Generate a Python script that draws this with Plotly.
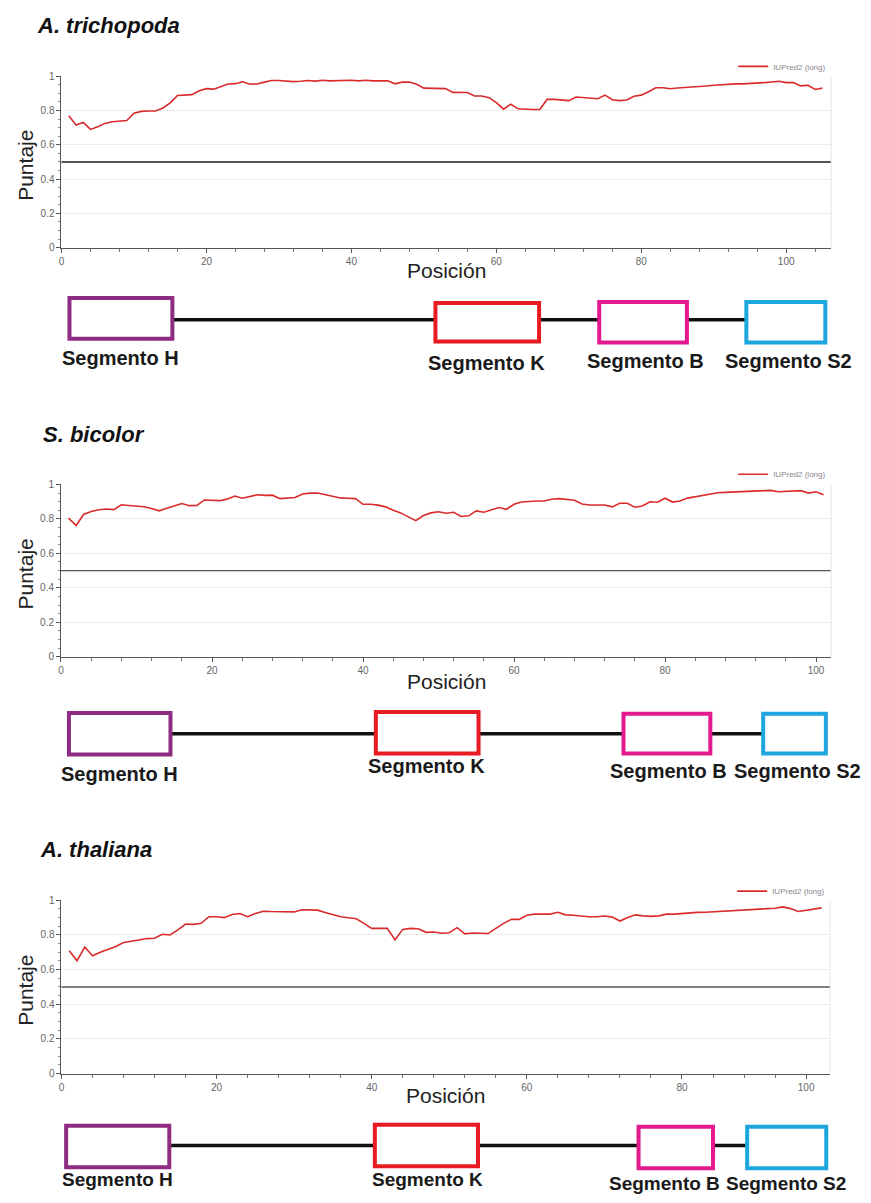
import plotly.graph_objects as go

# ---------------- data ----------------
trichopoda_scores = [0.77, 0.715, 0.73, 0.69, 0.705, 0.725, 0.735, 0.738, 0.742, 0.785,
                     0.795, 0.797, 0.797, 0.815, 0.845, 0.888, 0.89, 0.893, 0.915, 0.928,
                     0.925, 0.94, 0.955, 0.957, 0.968, 0.954, 0.955, 0.966, 0.975, 0.975,
                     0.971, 0.969, 0.971, 0.975, 0.972, 0.977, 0.973, 0.975, 0.978, 0.977,
                     0.973, 0.977, 0.973, 0.975, 0.974, 0.956, 0.966, 0.967, 0.953, 0.931,
                     0.929, 0.929, 0.928, 0.906, 0.906, 0.905, 0.885, 0.885, 0.875, 0.846,
                     0.808, 0.837, 0.81, 0.806, 0.806, 0.806, 0.865, 0.865, 0.862, 0.858,
                     0.879, 0.875, 0.869, 0.869, 0.89, 0.863, 0.858, 0.862, 0.883, 0.89,
                     0.91, 0.933, 0.933, 0.927, 0.932, 0.934, 0.937, 0.94, 0.943, 0.948,
                     0.951, 0.955, 0.956, 0.956, 0.957, 0.959, 0.963, 0.967, 0.971, 0.963,
                     0.963, 0.944, 0.948, 0.923, 0.931]

bicolor_scores = [0.805, 0.762, 0.826, 0.843, 0.853, 0.858, 0.854, 0.882, 0.878, 0.876,
                  0.871, 0.86, 0.847, 0.862, 0.874, 0.889, 0.877, 0.878, 0.91, 0.91,
                  0.906, 0.915, 0.933, 0.92, 0.928, 0.94, 0.937, 0.938, 0.918, 0.92,
                  0.924, 0.945, 0.95, 0.95, 0.94, 0.93, 0.922, 0.92, 0.918, 0.885,
                  0.885, 0.88, 0.87, 0.85, 0.835, 0.812, 0.79, 0.82, 0.835, 0.842,
                  0.833, 0.839, 0.814, 0.818, 0.847, 0.839, 0.852, 0.866, 0.856, 0.885,
                  0.898, 0.902, 0.904, 0.904, 0.914, 0.918, 0.914, 0.908, 0.887, 0.881,
                  0.881, 0.881, 0.87, 0.891, 0.891, 0.868, 0.875, 0.9, 0.897, 0.92,
                  0.898, 0.904, 0.921, 0.929, 0.937, 0.946, 0.952, 0.954, 0.956, 0.956,
                  0.958, 0.96, 0.962, 0.966, 0.958, 0.96, 0.962, 0.964, 0.95, 0.958,
                  0.941]

thaliana_scores = [0.709, 0.651, 0.73, 0.68, 0.70, 0.718, 0.733, 0.756, 0.762, 0.771,
                   0.779, 0.781, 0.804, 0.80, 0.829, 0.863, 0.861, 0.867, 0.905, 0.905,
                   0.90, 0.918, 0.924, 0.905, 0.924, 0.937, 0.935, 0.935, 0.931, 0.933,
                   0.945, 0.945, 0.943, 0.93, 0.916, 0.905, 0.899, 0.893, 0.867, 0.838,
                   0.838, 0.838, 0.771, 0.832, 0.838, 0.836, 0.815, 0.817, 0.81, 0.813,
                   0.842, 0.806, 0.811, 0.81, 0.808, 0.838, 0.867, 0.89, 0.89, 0.914,
                   0.92, 0.92, 0.92, 0.931, 0.916, 0.914, 0.909, 0.905, 0.905, 0.909,
                   0.903, 0.88, 0.901, 0.916, 0.91, 0.907, 0.91, 0.92, 0.92, 0.924,
                   0.928, 0.93, 0.931, 0.933, 0.937, 0.939, 0.941, 0.943, 0.947, 0.949,
                   0.952, 0.954, 0.962, 0.952, 0.935, 0.943, 0.95, 0.956]

species_names = ["A. trichopoda", "S. bicolor", "A. thaliana"]
segment_names = ["Segmento H", "Segmento K", "Segmento B", "Segmento S2"]

# segment extents in residue positions (start, end) per species
trichopoda_seg_start = [1.1, 51.6, 74.2, 94.5]
trichopoda_seg_end = [15.3, 65.9, 86.3, 105.4]
bicolor_seg_start = [1.05, 41.7, 74.5, 93.0]
bicolor_seg_end = [14.5, 55.3, 86.0, 101.3]
thaliana_seg_start = [0.6, 40.4, 74.4, 88.4]
thaliana_seg_end = [13.9, 53.7, 84.0, 98.6]

x_tickvals_std = [0, 20, 40, 60, 80, 100]
x_ticktext_std = ["0", "20", "40", "60", "80", "100"]
x_tickvals_thal = [0, 20, 40, 60, 80, 96]
x_ticktext_thal = ["0", "20", "40", "60", "80", "100"]

threshold = 0.5
legend_label = "IUPred2 (long)"

# ---------------- layout helpers ----------------
W, H = 871, 1203


def fx(p):
    return p / W


def fy(p):
    return 1 - p / H


seg_colors = ["#8e2b83", "#e81b22", "#e2198f", "#1ea6de"]
FONT = "Liberation Sans, Arial, Helvetica, sans-serif"

panels = [
    dict(name=species_names[0], y=trichopoda_scores, plot=(58.7, 831, 71, 244), xmax=106.2,
         tv=x_tickvals_std, tt=x_ticktext_std, title_xy=(32, 20), pos_y=267, thr_w=2.0,
         legend_y=61, ss=trichopoda_seg_start, se=trichopoda_seg_end,
         box_tb=[(295, 336), (300, 339), (299, 340), (299, 340)], line_y=317,
         lab_x=[118, 485, 645, 788], lab_y=[356, 361, 359, 359]),
    dict(name=species_names[1], y=bicolor_scores, plot=(58.2, 831, 483.3, 657.3), xmax=102,
         tv=x_tickvals_std, tt=x_ticktext_std, title_xy=(38, 433), pos_y=682, thr_w=1.2,
         legend_y=473, ss=bicolor_seg_start, se=bicolor_seg_end,
         box_tb=[(714, 756), (713, 755), (715, 755), (715, 755)], line_y=735,
         lab_x=[117, 425, 668, 797], lab_y=[776, 768, 773, 773]),
    dict(name=species_names[2], y=thaliana_scores, plot=(58.7, 830, 903.3, 1078.3), xmax=99.1,
         tv=x_tickvals_thal, tt=x_ticktext_thal, title_xy=(35, 852), pos_y=1100, thr_w=1.5,
         legend_y=894, ss=thaliana_seg_start, se=thaliana_seg_end,
         box_tb=[(1131, 1173), (1130, 1172), (1132, 1174), (1132, 1174)], line_y=1151,
         lab_x=[115, 426, 664, 786], lab_y=[1185, 1185, 1189, 1189]),
]

fig = go.Figure()
shapes = []
annotations = []
layout_extra = {}

for i, p in enumerate(panels):
    k = "" if i == 0 else str(i + 1)
    xa, ya = "x" + k, "y" + k
    leg = "legend" + k
    x0p, x1p, ytop, ybot = p["plot"]
    positions = list(range(1, len(p["y"]) + 1))

    fig.add_trace(go.Scatter(
        x=positions, y=p["y"], mode="lines", name=legend_label,
        line=dict(color="#d92b2b", width=1.6),
        xaxis=xa, yaxis=ya, legend=leg, showlegend=True, hoverinfo="x+y"))

    layout_extra["xaxis" + k] = dict(
        domain=[fx(x0p), fx(x1p)], anchor=ya, range=[0, p["xmax"]],
        tickmode="array", tickvals=p["tv"], ticktext=p["tt"],
        showline=True, linecolor="#555", linewidth=1,
        ticks="outside", ticklen=4, tickcolor="#555", tickwidth=1,
        tickfont=dict(size=10, color="#666", family=FONT),
        minor=dict(dtick=4, tick0=0, ticks="outside", ticklen=3, tickcolor="#777"),
        showgrid=False, zeroline=False, fixedrange=True)
    layout_extra["yaxis" + k] = dict(
        domain=[fy(ybot), fy(ytop)], anchor=xa, range=[0, 1.0],
        dtick=0.2, tick0=0,
        showline=True, linecolor="#555", linewidth=1,
        ticks="outside", ticklen=4, tickcolor="#555",
        tickfont=dict(size=10, color="#666", family=FONT),
        minor=dict(dtick=0.05, ticks="outside", ticklen=2, tickcolor="#888"),
        showgrid=True, gridcolor="#ececec", gridwidth=1,
        zeroline=False, fixedrange=True)
    layout_extra[leg] = dict(
        x=fx(x1p), xanchor="right", y=fy(p["legend_y"]), yanchor="middle",
        bgcolor="rgba(0,0,0,0)", itemwidth=30,
        font=dict(size=8, color="#888", family=FONT))

    # threshold line and faint right border
    shapes.append(dict(type="line", xref=xa + " domain", yref=ya, x0=0, x1=1,
                       y0=threshold, y1=threshold, line=dict(color="#555", width=p["thr_w"])))
    shapes.append(dict(type="line", xref=xa + " domain", yref=ya + " domain", x0=1, x1=1,
                       y0=0, y1=1, line=dict(color="#e6e6e6", width=1)))

    # titles
    annotations.append(dict(text="<b><i>" + p["name"] + "</i></b>", xref="paper", yref="paper",
                            x=fx(p["title_xy"][0]), y=fy(p["title_xy"][1]),
                            xanchor="left", yanchor="middle", showarrow=False,
                            font=dict(size=22, color="#111", family=FONT)))
    annotations.append(dict(text="Puntaje", xref="paper", yref="paper", textangle=-90,
                            x=fx(23), y=fy((ytop + ybot) / 2 + 3),
                            xanchor="center", yanchor="middle", showarrow=False,
                            font=dict(size=21, color="#222", family=FONT)))
    annotations.append(dict(text="Posición", xref="paper", yref="paper",
                            x=fx((x0p + x1p) / 2), y=fy(p["pos_y"]),
                            xanchor="center", yanchor="middle", showarrow=False,
                            font=dict(size=21, color="#222", family=FONT)))

    # domain diagram: connecting lines between consecutive segments
    for j in range(len(p["ss"]) - 1):
        shapes.append(dict(type="line", xref=xa, yref="paper",
                           x0=p["se"][j], x1=p["ss"][j + 1],
                           y0=fy(p["line_y"]), y1=fy(p["line_y"]),
                           line=dict(color="#111", width=3.5), layer="above"))
    for j in range(len(p["ss"])):
        top, bot = p["box_tb"][j]
        shapes.append(dict(type="rect", xref=xa, yref="paper",
                           x0=p["ss"][j], x1=p["se"][j], y0=fy(bot), y1=fy(top),
                           line=dict(color=seg_colors[j], width=4),
                           fillcolor="white", layer="above"))
        annotations.append(dict(text="<b>" + segment_names[j] + "</b>", xref="paper", yref="paper",
                                x=fx(p["lab_x"][j]), y=fy(p["lab_y"][j]),
                                xanchor="center", yanchor="middle", showarrow=False,
                                font=dict(size=20 if i < 2 else 19, color="#1a1a1a", family=FONT)))

fig.update_layout(
    width=W, height=H, margin=dict(l=0, r=0, t=0, b=0),
    paper_bgcolor="white", plot_bgcolor="white",
    font=dict(family=FONT),
    shapes=shapes, annotations=annotations,
    **layout_extra)

fig.write_html("out.html",
               config={"displayModeBar": False},
               post_script="document.body.style.margin='0px';document.body.style.padding='0px';"
                           "document.documentElement.style.overflow='hidden';")
